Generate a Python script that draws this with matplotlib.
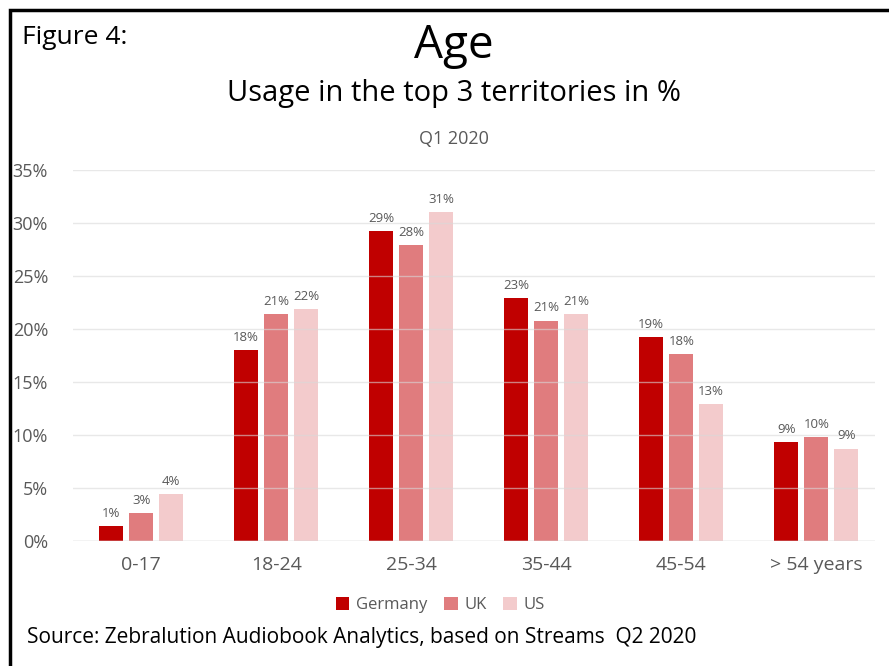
import matplotlib.pyplot as plt
import numpy as np
from matplotlib.patches import Rectangle

plt.rcParams['font.family'] = ['Open Sans', 'DejaVu Sans']

# data (share of usage in %)
age_groups = ['0-17', '18-24', '25-34', '35-44', '45-54', '> 54 years']
germany = [1.4, 18.0, 29.2, 22.9, 19.2, 9.3]
uk = [2.6, 21.4, 27.9, 20.8, 17.6, 9.8]
us = [4.4, 21.9, 31.0, 21.4, 12.9, 8.7]
series = ['Germany', 'UK', 'US']
colors = ['#C00000', '#E07C7E', '#F3CBCC']

fig = plt.figure(figsize=(8.89, 6.66), dpi=100)
ax = fig.add_axes([73 / 889, 1 - 541 / 666, 802 / 889, 371 / 666])

x = np.arange(len(age_groups))
offset = 0.222
width = 0.175
for i, (name, vals, col) in enumerate(zip(series, [germany, uk, us], colors)):
    pos = x + (i - 1) * offset
    ax.bar(pos, vals, width=width, color=col, label=name, zorder=2)
    for p, v in zip(pos, vals):
        ax.text(p, v + 0.6, f'{round(v):.0f}%', ha='center', va='bottom',
                fontsize=9.5, color='#595959')

ax.set_ylim(0, 35)
ax.set_xlim(-0.505, 5.435)
ax.set_yticks(range(0, 36, 5))
ax.set_yticklabels([f'{t}%' for t in range(0, 36, 5)], fontsize=13, color='#595959')
ax.set_xticks(x)
ax.set_xticklabels(age_groups, fontsize=14, color='#595959')
ax.tick_params(length=0)
ax.tick_params(axis='x', pad=11)
ax.tick_params(axis='y', pad=18)
ax.grid(axis='y', color='#D9D9D9', alpha=0.6, linewidth=1, zorder=3)
ax.set_axisbelow(False)
for s in ax.spines.values():
    s.set_visible(False)
ax.axhline(0, color='#D9D9D9', linewidth=1, zorder=3)

leg = ax.legend(loc='upper center', bbox_to_anchor=(0.458, -0.11), ncol=3,
                frameon=False, fontsize=12, handlelength=0.8, handleheight=0.8,
                handletextpad=0.4, columnspacing=1.0)
for t in leg.get_texts():
    t.set_color('#595959')

fig.text(22 / 889, 1 - 37 / 666, 'Figure 4:', fontsize=19, ha='left', va='center')
fig.text(454 / 889, 1 - 46 / 666, 'Age', fontsize=33, ha='center', va='center')
fig.text(454 / 889, 1 - 93 / 666, 'Usage in the top 3 territories in %', fontsize=21,
         ha='center', va='center')
fig.text(454 / 889, 1 - 139 / 666, 'Q1 2020', fontsize=13, color='#595959',
         ha='center', va='center')
fig.text(27 / 889, 1 - 637 / 666, 'Source: Zebralution Audiobook Analytics, based on Streams  Q2 2020',
         fontsize=15, ha='left', va='center')

# frame around the figure (top and left edge visible)
fig.patches.append(Rectangle((10 / 889, -0.05), 1.1, 1 - 10 / 666 + 0.05,
                             transform=fig.transFigure, fill=False,
                             edgecolor='black', linewidth=2.5))

fig.savefig('out.png', dpi=100)
